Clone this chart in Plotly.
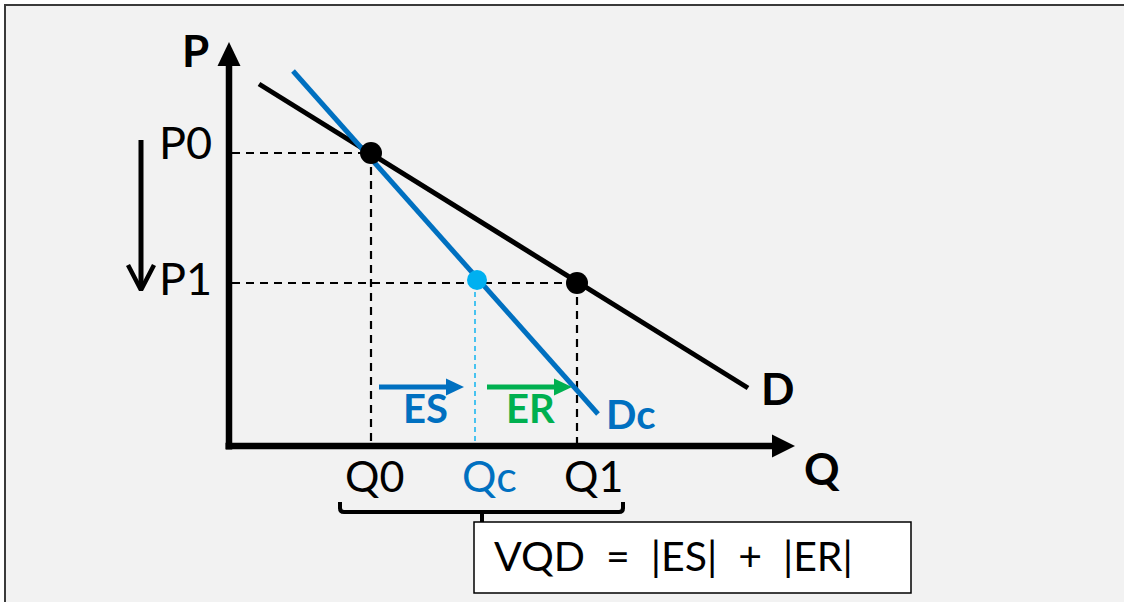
import plotly.graph_objects as go

# ---- data (chart units: 1 unit ~ 10 px, origin at the axes corner) ----
q_labels = ["Q0", "Qc", "Q1"]
q_values = [14.2, 24.6, 34.8]
q_colors = ["black", "#0070C0", "black"]
p_labels = ["P0", "P1"]
p_values = [29.3, 16.3]

demand_q = [3.0, 51.9]      # D
demand_p = [36.2, 5.8]
comp_q = [6.4, 36.9]        # Dc (compensated demand)
comp_p = [37.5, 3.2]

effect_labels = ["ES", "ER"]
effect_colors = ["#0070C0", "#00B050"]

formula_parts = ["VQD", "=", "|ES|", "+", "|ER|"]

BLUE = "#0070C0"
LBLUE = "#00B0F0"
GREEN = "#00B050"
FONT = "Lato"

Q0, Qc, Q1 = q_values
P0, P1 = p_values

fig = go.Figure()

# background frame
fig.add_shape(type="rect", xref="x", yref="y", x0=-22.4, y0=44.1, x1=95, y1=-20,
              line=dict(color="#3a3a3a", width=2), fillcolor="#f2f2f2", layer="below")

# dashed guide lines
dash = "8px,6px"
for xs, ys in [([0.3, Q0], [P0, P0]), ([0.3, Q1], [P1, P1]),
               ([Q0, Q0], [P0, 0.3]), ([Q1, Q1], [P1, 0.3])]:
    fig.add_trace(go.Scatter(x=xs, y=ys, mode="lines",
                             line=dict(color="black", width=2.2, dash=dash),
                             hoverinfo="skip", showlegend=False))
fig.add_trace(go.Scatter(x=[Qc, Qc], y=[P1, 0.3], mode="lines",
                         line=dict(color=LBLUE, width=1.4, dash="5px,4px"),
                         hoverinfo="skip", showlegend=False))

# demand curves
fig.add_trace(go.Scatter(x=demand_q, y=demand_p, mode="lines",
                         line=dict(color="black", width=5), showlegend=False))
fig.add_trace(go.Scatter(x=comp_q, y=comp_p, mode="lines",
                         line=dict(color=BLUE, width=5), showlegend=False))

# axes
y_top, y_tip = 38.0, 40.4
x_end, x_tip = 54.3, 56.6
fig.add_trace(go.Scatter(x=[0, 0], y=[-0.35, y_top + 0.2], mode="lines",
                         line=dict(color="black", width=6.5), showlegend=False))
fig.add_trace(go.Scatter(x=[-0.35, x_end + 0.2], y=[0, 0], mode="lines",
                         line=dict(color="black", width=6.5), showlegend=False))
fig.add_shape(type="path", xref="x", yref="y",
              path=f"M -1.15 {y_top} L 1.15 {y_top} L 0 {y_tip} Z",
              fillcolor="black", line=dict(width=0))
fig.add_shape(type="path", xref="x", yref="y",
              path=f"M {x_end} -1.15 L {x_end} 1.15 L {x_tip} 0 Z",
              fillcolor="black", line=dict(width=0))

# equilibrium points
fig.add_trace(go.Scatter(x=[Q0, Q1], y=[P0, P1], mode="markers",
                         marker=dict(color="black", size=22), showlegend=False))
fig.add_trace(go.Scatter(x=[Qc + 0.2], y=[P1 + 0.3], mode="markers",
                         marker=dict(color=LBLUE, size=20), showlegend=False))

# price-drop arrow
ax = -8.8
fig.add_trace(go.Scatter(x=[ax, ax], y=[30.6, 15.8], mode="lines",
                         line=dict(color="black", width=5), showlegend=False))
fig.add_trace(go.Scatter(x=[ax - 1.3, ax, ax + 1.3], y=[18.1, 15.6, 18.1], mode="lines",
                         line=dict(color="black", width=4.5), showlegend=False))

# ES / ER arrows
arrow_y = 5.9
segments = [(Q0 + 0.8, Qc - 1.1), (Qc + 1.2, Q1 - 0.5)]
for (xa, xb), col in zip(segments, effect_colors):
    fig.add_trace(go.Scatter(x=[xa, xb - 1.6], y=[arrow_y, arrow_y], mode="lines",
                             line=dict(color=col, width=5), showlegend=False))
    fig.add_shape(type="path", xref="x", yref="y",
                  path=f"M {xb-1.8} {arrow_y-0.85} L {xb-1.8} {arrow_y+0.85} L {xb} {arrow_y} Z",
                  fillcolor=col, line=dict(width=0))

# bracket under quantities
bl, br, bt, bb, bs = Q0 - 3.1, Q1 + 4.6, -5.6, -6.6, -7.6
bm = 25.3
fig.add_shape(type="path", xref="x", yref="y",
              path=(f"M {bl} {bt} L {bl} {bb+0.4} Q {bl} {bb} {bl+0.4} {bb} "
                    f"L {br-0.4} {bb} Q {br} {bb} {br} {bb+0.4} L {br} {bt}"),
              line=dict(color="black", width=4))
fig.add_shape(type="line", xref="x", yref="y", x0=bm, y0=bb, x1=bm, y1=bs,
              line=dict(color="black", width=4))

# formula box
fig.add_shape(type="rect", xref="x", yref="y", x0=24.5, y0=-7.6, x1=68.2, y1=-14.7,
              fillcolor="white", line=dict(color="black", width=1.5))

ann = []
def txt(x, y, s, size, color="black", bold=False, xanchor="left"):
    ann.append(dict(x=x, y=y, xref="x", yref="y", text=(f"<b>{s}</b>" if bold else s),
                    showarrow=False, xanchor=xanchor, yanchor="middle",
                    font=dict(family=FONT, size=size, color=color)))

txt(-3.4, 39.6, "P", 44, bold=True, xanchor="center")
txt(57.3, -2.2, "Q", 44, bold=True)
for lab, pv, yy in zip(p_labels, p_values, [30.4, 16.8]):
    txt(-1.5, yy, lab, 45, xanchor="right")
for lab, col, left in zip(q_labels, q_colors, [11.4, 23.1, 33.3]):
    txt(left, -2.9, lab, 43, color=col)
txt(53.0, 5.8, "D", 44, bold=True)
txt(37.5, 3.2, "Dc", 40, color=BLUE, bold=True)
for lab, col, left in zip(effect_labels, effect_colors, [17.2, 27.5]):
    txt(left, 3.8, lab, 40, color=col, bold=True)
txt(26.3, -10.9, "&nbsp;&nbsp;".join(formula_parts), 41)

fig.update_layout(
    width=1124, height=602, autosize=False,
    margin=dict(l=0, r=0, t=0, b=0),
    paper_bgcolor="white", plot_bgcolor="rgba(0,0,0,0)",
    xaxis=dict(range=[-22.9, 89.5], visible=False, fixedrange=True),
    yaxis=dict(range=[-15.6, 44.6], visible=False, fixedrange=True),
    annotations=ann, showlegend=False,
)

fig.write_html("out.html", post_script="document.body.style.margin='0';",
               config={"displayModeBar": False})
